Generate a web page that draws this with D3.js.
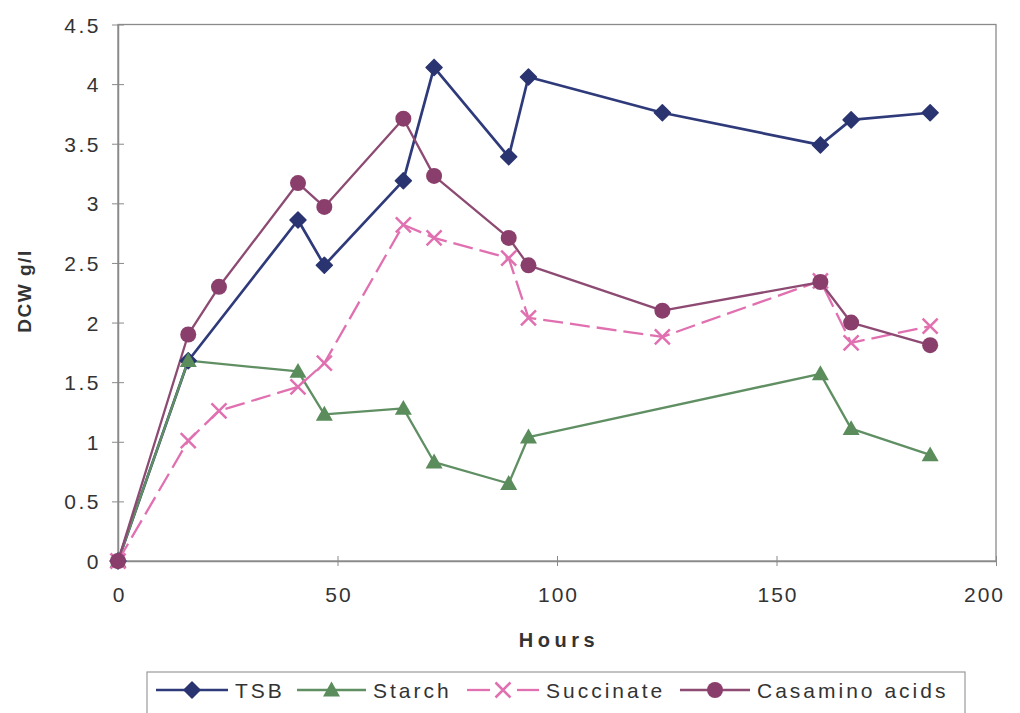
<!DOCTYPE html>
<html><head><meta charset="utf-8">
<script src="https://cdn.jsdelivr.net/npm/d3@7"></script>
<style>body{margin:0;background:#fff} svg{display:block} text{font-family:"Liberation Sans", Arial, sans-serif}</style>
</head><body><svg id="c" width="1020" height="713"></svg>
<script>
// ---- data ----
const tsbHours = [0,16,41,47,65,72,89,93.5,124,160,167,185];
const tsbValues = [0,1.68,2.86,2.48,3.19,4.14,3.39,4.06,3.76,3.49,3.70,3.76];
const starchHours = [0,16,41,47,65,72,89,93.5,160,167,185];
const starchValues = [0,1.68,1.59,1.23,1.28,0.83,0.65,1.04,1.57,1.11,0.89];
const succinateHours = [0,16,23,41,47,65,72,89,93.5,124,160,167,185];
const succinateValues = [0,1.01,1.26,1.46,1.66,2.82,2.71,2.54,2.04,1.88,2.35,1.83,1.97];
const casaminoHours = [0,16,23,41,47,65,72,89,93.5,124,160,167,185];
const casaminoValues = [0,1.90,2.30,3.17,2.97,3.71,3.23,2.71,2.48,2.10,2.34,2.00,1.81];
const seriesNames = ["TSB","Starch","Succinate","Casamino acids"];
const xTicks = [0,50,100,150,200];
const yTicks = [0,0.5,1,1.5,2,2.5,3,3.5,4,4.5];
const yTickLabels = ["0","0.5","1","1.5","2","2.5","3","3.5","4","4.5"];
const xTitle = "Hours", yTitle = "DCW g/l";

// ---- layout ----
const svg = d3.select("#c");
const L = 118, R = 996, T = 24.5, B = 561;
const x = d3.scaleLinear().domain([0,200]).range([L,R]);
const y = d3.scaleLinear().domain([0,4.5]).range([B,T]);
const axisCol = "#8a8a8a", textCol = "#333";

const series = [
  {name:seriesNames[0], h:tsbHours, v:tsbValues, col:"#2f3a7a", mcol:"#2a3470", lw:2.7, dash:null, m:"diamond"},
  {name:seriesNames[1], h:starchHours, v:starchValues, col:"#5f8f62", mcol:"#5a8c5c", lw:2.3, dash:null, m:"triangle"},
  {name:seriesNames[2], h:succinateHours, v:succinateValues, col:"#e070b0", mcol:"#e070b0", lw:2.3, dash:"20,7", m:"x"},
  {name:seriesNames[3], h:casaminoHours, v:casaminoValues, col:"#8d4a72", mcol:"#8a3e6c", lw:2.3, dash:null, m:"circle"}
];

// frame
svg.append("rect").attr("x",L).attr("y",T).attr("width",R-L).attr("height",B-T)
  .attr("fill","none").attr("stroke",axisCol).attr("stroke-width",1.3);

// y axis
const yAxis = d3.axisLeft(y).tickValues(yTicks).tickFormat((d,i)=>yTickLabels[i]).tickSize(6).tickSizeOuter(0);
const gy = svg.append("g").attr("transform",`translate(${L},0)`).call(yAxis);
gy.select(".domain").attr("stroke",axisCol).attr("stroke-width",1.5);
gy.selectAll(".tick line").attr("stroke",axisCol).attr("x2",-6).attr("x1",6);
gy.selectAll(".tick text").attr("x",-17).attr("fill",textCol).attr("font-size",21)
  .attr("letter-spacing","2.5px").attr("dy","0.36em");

// x axis
const xAxis = d3.axisBottom(x).tickValues(xTicks).tickSize(5).tickSizeOuter(0);
const gx = svg.append("g").attr("transform",`translate(0,${B})`).call(xAxis);
gx.select(".domain").attr("stroke",axisCol).attr("stroke-width",1.5);
gx.selectAll(".tick line").attr("stroke",axisCol).attr("y1",-5).attr("y2",5);
gx.selectAll(".tick text").attr("y",26).attr("dy","0.71em").attr("fill",textCol).attr("font-size",21)
  .attr("letter-spacing","2px").attr("dx",(d,i)=> i===xTicks.length-1 ? "-12px" : "1px");

// titles
svg.append("text").attr("x",(L+R)/2+2).attr("y",647).attr("text-anchor","middle")
  .attr("font-size",20).attr("font-weight","bold").attr("fill",textCol).attr("letter-spacing","4.5px").text(xTitle);
svg.append("text").attr("transform","translate(31,291) rotate(-90)").attr("text-anchor","middle")
  .attr("font-size",19).attr("font-weight","bold").attr("fill",textCol).attr("letter-spacing","1.5px").text(yTitle);

// marker drawer
function marker(g, type, col, cx, cy, s){
  if(type==="diamond"){
    g.append("path").attr("d",`M${cx},${cy-s}L${cx+s},${cy}L${cx},${cy+s}L${cx-s},${cy}Z`).attr("fill",col).attr("stroke",col).attr("stroke-width",1.5).attr("stroke-linejoin","round");
  } else if(type==="triangle"){
    g.append("path").attr("d",`M${cx},${cy-s}L${cx+s},${cy+s*0.75}L${cx-s},${cy+s*0.75}Z`).attr("fill",col);
  } else if(type==="circle"){
    g.append("circle").attr("cx",cx).attr("cy",cy).attr("r",s).attr("fill",col);
  } else {
    g.append("path").attr("d",`M${cx-s},${cy-s}L${cx+s},${cy+s}M${cx-s},${cy+s}L${cx+s},${cy-s}`).attr("stroke",col).attr("stroke-width",2.5).attr("fill","none");
  }
}
const msize = {diamond:8, triangle:8.5, circle:8, x:7.5};

const line = d3.line().x(d=>x(d[0])).y(d=>y(d[1]));
const plot = svg.append("g");
series.forEach(s=>{
  const pts = s.h.map((h,i)=>[h,s.v[i]]);
  plot.append("path").datum(pts).attr("d",line).attr("fill","none").attr("stroke",s.col)
    .attr("stroke-width",s.lw).attr("stroke-dasharray",s.dash).attr("stroke-linejoin","round");
});
series.forEach(s=>{
  const g = plot.append("g");
  s.h.forEach((h,i)=> marker(g, s.m, s.mcol, x(h), y(s.v[i]), msize[s.m]));
});

// legend
const lg = svg.append("g");
lg.append("rect").attr("x",147).attr("y",672).attr("width",818).attr("height",60)
  .attr("fill","#fff").attr("stroke","#9a9a9a").attr("stroke-width",1.2);
const legendItems = [
  {lx:156, tx:235},
  {lx:297, tx:373},
  {lx:467, tx:546},
  {lx:680, tx:757}
];
series.forEach((s,i)=>{
  const it = legendItems[i], ly = 690, w = it.tx - it.lx - 7, cx = it.lx + w/2;
  if(s.dash){
    lg.append("line").attr("x1",it.lx).attr("x2",cx-13).attr("y1",ly).attr("y2",ly).attr("stroke",s.col).attr("stroke-width",s.lw);
    lg.append("line").attr("x1",cx+14).attr("x2",it.lx+w).attr("y1",ly).attr("y2",ly).attr("stroke",s.col).attr("stroke-width",s.lw);
  } else {
    lg.append("line").attr("x1",it.lx).attr("x2",it.lx+w).attr("y1",ly).attr("y2",ly)
      .attr("stroke",s.col).attr("stroke-width",s.lw);
  }
  marker(lg, s.m, s.mcol, cx, ly, msize[s.m]);
  lg.append("text").attr("x",it.tx).attr("y",698).attr("font-size",21).attr("fill",textCol)
    .attr("letter-spacing","3px").text(s.name);
});
</script></body></html>
